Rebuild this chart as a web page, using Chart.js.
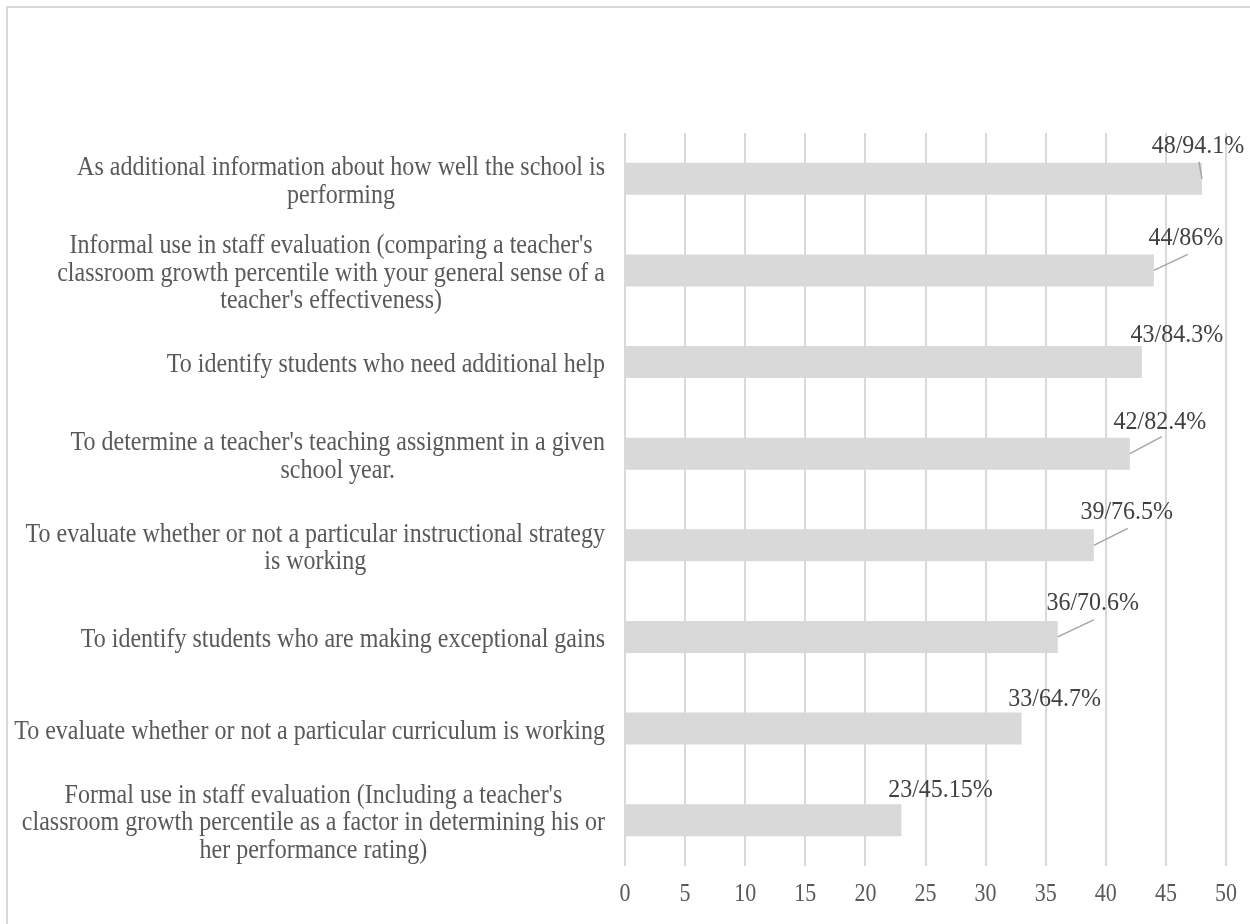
<!DOCTYPE html>
<html lang="en">
<head>
    <meta charset="UTF-8">
    <title>Uses of student growth percentiles</title>
    <script src="https://cdn.jsdelivr.net/npm/chart.js"></script>
    <style>
        body { margin: 0; background: #fff; overflow: hidden; }
        canvas { display: block; }
    </style>
</head>
<body>
    <canvas id="usesChart" width="1250" height="924"></canvas>
    <script>
        // categories, one entry per bar, already split into display lines
        const categories = [
            ['As additional information about how well the school is', 'performing'],
            ["Informal use in staff evaluation (comparing a teacher's", 'classroom growth percentile with your general sense of a', "teacher's effectiveness)"],
            ['To identify students who need additional help'],
            ["To determine a teacher's teaching assignment in a given", 'school year.'],
            ['To evaluate whether or not a particular instructional strategy', 'is working'],
            ['To identify students who are making exceptional gains'],
            ['To evaluate whether or not a particular curriculum is working'],
            ["Formal use in staff evaluation (Including a teacher's", 'classroom growth percentile as a factor in determining his or', 'her performance rating)']
        ];
        const counts = [48, 44, 43, 42, 39, 36, 33, 23];
        const percents = ['94.1', '86', '84.3', '82.4', '76.5', '70.6', '64.7', '45.15'];
        const xMin = 0;
        const xMax = 50;
        const xStep = 5;

        const serif = '"Liberation Serif", "Times New Roman", serif';

        // text drawn a little taller than wide, like the original export
        function tallText(ctx, text, x, y, sy) {
            ctx.save();
            ctx.translate(x, y);
            ctx.scale(1, sy);
            ctx.fillText(text, 0, 0);
            ctx.restore();
        }

        // light frame round the chart
        const framePlugin = {
            id: 'frame',
            beforeDraw(chart) {
                const ctx = chart.ctx;
                ctx.save();
                ctx.fillStyle = '#fff';
                ctx.fillRect(0, 0, chart.width, chart.height);
                ctx.strokeStyle = '#d9d9d9';
                ctx.lineWidth = 2;
                ctx.strokeRect(7, 7, chart.width + 20, chart.height + 20);
                ctx.restore();
            }
        };

        // category names: block right-aligned to the axis, lines centred in the block
        const categoryLabels = {
            id: 'categoryLabels',
            afterDraw(chart, args, opts) {
                const ctx = chart.ctx;
                const y = chart.scales.y;
                ctx.save();
                ctx.font = opts.font;
                ctx.fillStyle = opts.color;
                ctx.textAlign = 'center';
                ctx.textBaseline = 'middle';
                categories.forEach((lines, i) => {
                    const cy = y.getPixelForTick(i);
                    const w = Math.max(...lines.map(l => ctx.measureText(l).width));
                    const cx = opts.right - w / 2;
                    lines.forEach((line, k) => {
                        const ly = cy + (k - (lines.length - 1) / 2) * opts.lineHeight + opts.shift;
                        tallText(ctx, line, cx, ly, opts.stretch);
                    });
                });
                ctx.restore();
            }
        };

        // numbers under the value axis
        const xTickLabels = {
            id: 'xTickLabels',
            afterDraw(chart, args, opts) {
                const ctx = chart.ctx;
                const x = chart.scales.x;
                ctx.save();
                ctx.font = opts.font;
                ctx.fillStyle = opts.color;
                ctx.textAlign = 'center';
                ctx.textBaseline = 'middle';
                x.ticks.forEach(t => {
                    tallText(ctx, String(t.value), x.getPixelForValue(t.value), opts.y, opts.stretch);
                });
                ctx.restore();
            }
        };

        // value labels next to the bar ends, some with a leader line
        const valueLabels = {
            id: 'valueLabels',
            afterDatasetsDraw(chart, args, opts) {
                const ctx = chart.ctx;
                const bars = chart.getDatasetMeta(0).data;
                ctx.save();
                ctx.font = opts.font;
                ctx.textAlign = 'center';
                ctx.textBaseline = 'alphabetic';
                bars.forEach((bar, i) => {
                    const o = opts.offsets[i];
                    if (o.leader) {
                        ctx.strokeStyle = opts.leaderColor;
                        ctx.lineWidth = 1.5;
                        ctx.beginPath();
                        ctx.moveTo(bar.x, bar.y);
                        ctx.lineTo(bar.x + o.leader[0], bar.y + o.leader[1]);
                        ctx.stroke();
                    }
                    ctx.fillStyle = opts.color;
                    tallText(ctx, counts[i] + '/' + percents[i] + '%', bar.x + o.dx, bar.y + o.dy, opts.stretch);
                });
                ctx.restore();
            }
        };

        new Chart(document.getElementById('usesChart'), {
            type: 'bar',
            data: {
                labels: categories,
                datasets: [{
                    data: counts,
                    backgroundColor: '#d9d9d9',
                    borderWidth: 0,
                    categoryPercentage: 1,
                    barPercentage: 0.35
                }]
            },
            options: {
                indexAxis: 'y',
                responsive: false,
                animation: false,
                layout: { padding: { top: 133, right: 24, left: 0, bottom: 0 } },
                scales: {
                    x: {
                        min: xMin,
                        max: xMax,
                        afterFit: s => { s.height = 58; },
                        border: { display: false },
                        grid: { color: '#d9d9d9', lineWidth: 2, drawTicks: false },
                        ticks: { stepSize: xStep, display: false }
                    },
                    y: {
                        afterFit: s => { s.width = 625; },
                        border: { display: false },
                        grid: { display: false },
                        ticks: { display: false }
                    }
                },
                plugins: {
                    legend: { display: false },
                    tooltip: { enabled: false },
                    categoryLabels: {
                        font: '24px ' + serif,
                        color: '#595959',
                        right: 605,
                        lineHeight: 27.5,
                        shift: 3,
                        stretch: 1.15
                    },
                    xTickLabels: {
                        font: '22px ' + serif,
                        color: '#595959',
                        y: 895,
                        stretch: 1.12
                    },
                    valueLabels: {
                        font: '24px ' + serif,
                        color: '#404040',
                        leaderColor: '#a6a6a6',
                        stretch: 1.07,
                        offsets: [
                            { dx: -4, dy: -26, leader: [-3, -17] },
                            { dx: 32, dy: -25, leader: [34, -16] },
                            { dx: 35, dy: -20 },
                            { dx: 30, dy: -25, leader: [32, -17] },
                            { dx: 33, dy: -26, leader: [34, -17] },
                            { dx: 35, dy: -27, leader: [36, -17] },
                            { dx: 33, dy: -23 },
                            { dx: 39, dy: -23 }
                        ]
                    }
                }
            },
            plugins: [framePlugin, categoryLabels, xTickLabels, valueLabels]
        });
    </script>
</body>
</html>
